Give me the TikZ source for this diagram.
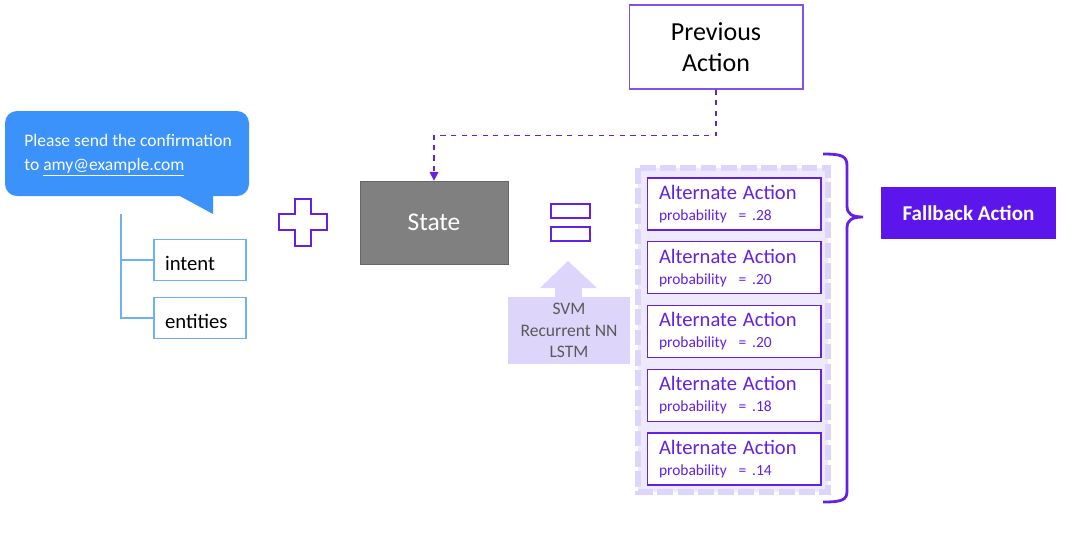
\documentclass[tikz,border=0pt]{standalone}
\usepackage{fontspec}
\setmainfont{Carlito}
\usepackage{xcolor}
\usetikzlibrary{arrows.meta,positioning,calc}
\definecolor{bubbleblue}{RGB}{58,146,250}
\definecolor{treeblue}{RGB}{110,175,250}
\definecolor{actpurple}{RGB}{98,32,232}
\definecolor{linepurple}{RGB}{130,80,235}
\definecolor{lavender}{RGB}{222,214,250}
\definecolor{lavlight}{RGB}{238,233,253}
\definecolor{fallpurple}{RGB}{92,22,236}
\definecolor{stategray}{RGB}{128,128,128}
\definecolor{modelgray}{RGB}{90,90,90}
\tikzset{
	x=0.02cm,y=-0.02cm,
	leafbox/.style={draw=treeblue, semithick, minimum width=1.84cm, minimum height=0.82cm, text width=1.4cm, align=left, inner xsep=0.22cm, text height=0.45cm, text depth=0.05cm, font=\fontsize{11.8}{13}\selectfont},
	altbox/.style={draw=actpurple, fill=white, semithick, minimum width=3.48cm, minimum height=1.04cm, text width=3cm, inner xsep=0.24cm, align=left, text=actpurple},
	prevbox/.style={draw=linepurple, semithick, minimum width=3.48cm, minimum height=1.68cm, align=center, font=\fontsize{14.8}{17.5}\selectfont},
	eqbar/.style={draw=actpurple, semithick, minimum width=0.78cm, minimum height=0.28cm},
	flow/.style={draw=actpurple, semithick, dashed, -{Triangle[width=5pt,length=5pt]}}
}
\newcommand{\altline}[1]{{\fontsize{11.7}{13}\selectfont Alternate Action}\\[0pt]{\fontsize{8.8}{10.5}\selectfont probability\ \ = .#1}}

\begin{document}
\begin{tikzpicture}
    \useasboundingbox (0,0) rectangle (1074,538);

    % chat bubble
    \fill[bubbleblue, rounded corners=0.24cm] (5,111) rectangle (249,196);
    \fill[bubbleblue] (178,195) -- (213,195) -- (213,214) -- cycle;
    \node[text=white, align=left, anchor=north west, inner sep=0pt, font=\fontsize{10}{13.6}\selectfont] (msg) at (24,134) {Please send the confirmation\\to \underline{amy@example.com}};

    \node[leafbox] (intent) at (200,260) {intent};
    \node[leafbox] (entities) at (200,318) {entities};
    \coordinate (treetop) at (121,214);
    \draw[treeblue, semithick] (treetop) |- (intent.west);
    \draw[treeblue, semithick] (treetop) |- (entities.west);

    % plus
    \draw[actpurple, semithick] (295,199) -- (311,199) -- (311,214) -- (327,214) -- (327,230) -- (311,230) -- (311,246) -- (295,246) -- (295,230) -- (279,230) -- (279,214) -- (295,214) -- cycle;

    \node[draw=gray!80!black, fill=stategray, minimum width=2.96cm, minimum height=1.66cm, text=white, font=\fontsize{14.5}{17}\selectfont] (state) at (434,222.5) {State};
    \node[prevbox] (prev) at (716,47) {Previous\\Action};
    \draw[flow] (prev.south) -- ++(0,46) -| (state.north);

    % equals
    \node[eqbar] (eqtop) at (570.5,211) {};
    \node[eqbar] (eqbot) at (570.5,234) {};

    \fill[lavender] (540,288) -- (568,261) -- (597,288) -- (582,288) -- (582,298) -- (555,298) -- (555,288) -- cycle;
    \node[fill=lavender, minimum width=2.44cm, minimum height=1.34cm, align=center, text=modelgray, font=\fontsize{10}{12.2}\selectfont] (models) at (569,330.5) {SVM\\Recurrent NN\\LSTM};

    % alternates
    \draw[lavender, fill=lavlight, line width=3pt, dash pattern=on 9pt off 2.5pt] (638,168) rectangle (828,492);
    \foreach \p [count=\i] in {28,20,20,18,14}
        \node[altbox] (alt\i) at (734,{204+63.75*(\i-1)}) {\altline{\p}};

    \draw[actpurple, line width=1.6pt] (823,154) .. controls (842,154) and (847,156) .. (847,166) -- (847,206) .. controls (847,214) and (852,217) .. (863,217) .. controls (852,217) and (847,220) .. (847,228) -- (847,491) .. controls (847,500) and (842,502) .. (823,502);

    \node[fill=fallpurple, minimum width=3.5cm, minimum height=1.04cm, text=white, font=\fontsize{12}{14}\selectfont\bfseries] (fallback) at (968.5,213) {Fallback Action};
\end{tikzpicture}
\end{document}
